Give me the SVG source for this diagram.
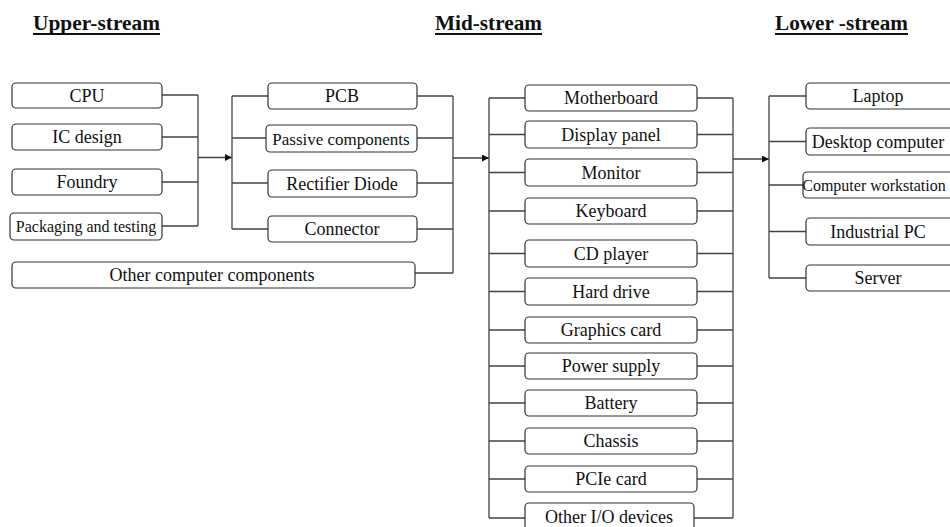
<svg xmlns="http://www.w3.org/2000/svg" width="950" height="527" viewBox="0 0 950 527">
  <style>
    .box { fill: #ffffff; stroke: #333333; stroke-width: 1.2; }
    .lbl { font-family: "Liberation Serif", "Times New Roman", serif; font-size: 18px; fill: #111111; text-anchor: middle; }
    .hdr { font-family: "Liberation Serif", "Times New Roman", serif; font-size: 20.5px; font-weight: bold; fill: #111111; }
    .wire { fill: none; stroke: #444444; stroke-width: 1.3; }
    .ul { stroke: #111111; stroke-width: 2; }
  </style>
  <defs>
    <marker id="arrow" viewBox="0 0 10 10" refX="10" refY="5" markerWidth="8" markerHeight="7" markerUnits="userSpaceOnUse" orient="auto">
      <path d="M0,0 L10,5 L0,10 z" fill="#111111"/>
    </marker>
  </defs>

  <!-- Column headings -->
  <g id="headings">
    <text class="hdr" x="33" y="30" textLength="127" lengthAdjust="spacingAndGlyphs">Upper-stream</text>
    <line class="ul" x1="33" y1="34" x2="160" y2="34"/>
    <text class="hdr" x="435" y="30" textLength="107" lengthAdjust="spacingAndGlyphs">Mid-stream</text>
    <line class="ul" x1="435" y1="34" x2="542" y2="34"/>
    <text class="hdr" x="775" y="30" textLength="133" lengthAdjust="spacingAndGlyphs">Lower -stream</text>
    <line class="ul" x1="775" y1="34" x2="908" y2="34"/>
  </g>

  <!-- Connectors -->
  <g id="connectors">
    <!-- upstream bracket -->
    <path class="wire" d="M162,95 H198 M162,137 H198 M162,182 H198 M162,226 H198 M198,95 V226"/>
    <line class="wire" x1="198" y1="157.5" x2="232" y2="157.5" marker-end="url(#arrow)"/>
    <!-- component bracket (left side) -->
    <path class="wire" d="M232,96 V229 M232,96 H268 M232,138 H266 M232,183 H268 M232,229 H268"/>
    <!-- component bracket (right side) -->
    <path class="wire" d="M417,96 H453 M417,138 H453 M417,183 H453 M417,229 H453 M415,273 H453 M453,96 V273"/>
    <line class="wire" x1="453" y1="158" x2="489" y2="158" marker-end="url(#arrow)"/>
    <!-- midstream bracket (left side) -->
    <path class="wire" d="M489,98 V518 M489,98 H525 M489,134.5 H525 M489,172.5 H525 M489,211 H525 M489,253.5 H525 M489,291.5 H525 M489,330 H525 M489,366 H525 M489,403 H525 M489,441 H525 M489,479 H525 M489,518 H525"/>
    <!-- midstream bracket (right side) -->
    <path class="wire" d="M733,98 V518 M697,98 H733 M697,134.5 H733 M697,172.5 H733 M697,211 H733 M697,253.5 H733 M697,291.5 H733 M697,330 H733 M697,366 H733 M697,403 H733 M697,441 H733 M697,479 H733 M694,518 H733"/>
    <line class="wire" x1="733" y1="159" x2="769" y2="159" marker-end="url(#arrow)"/>
    <!-- downstream bracket -->
    <path class="wire" d="M769,96 V278 M769,96 H806 M769,141.5 H806 M769,185 H803 M769,231.5 H806 M769,278 H806"/>
  </g>

  <!-- Upstream nodes -->
  <g id="cpu"><rect class="box" x="12" y="83" width="150" height="25" rx="4"/><text class="lbl" x="87" y="101.5">CPU</text></g>
  <g id="ic-design"><rect class="box" x="12" y="124" width="150" height="26" rx="4"/><text class="lbl" x="87" y="143">IC design</text></g>
  <g id="foundry"><rect class="box" x="12" y="169" width="150" height="26" rx="4"/><text class="lbl" x="87" y="188">Foundry</text></g>
  <g id="packaging"><rect class="box" x="10" y="213" width="152" height="27" rx="4"/><text class="lbl" x="86" y="232" style="font-size:16px">Packaging and testing</text></g>

  <g id="pcb"><rect class="box" x="268" y="83" width="149" height="26" rx="4"/><text class="lbl" x="342" y="102">PCB</text></g>
  <g id="passive"><rect class="box" x="266" y="125" width="151" height="27" rx="4"/><text class="lbl" x="341" y="144.5" style="font-size:17px">Passive components</text></g>
  <g id="rectifier"><rect class="box" x="268" y="170" width="149" height="27" rx="4"/><text class="lbl" x="342" y="189.5">Rectifier Diode</text></g>
  <g id="connector"><rect class="box" x="268" y="216" width="149" height="26" rx="4"/><text class="lbl" x="342" y="235">Connector</text></g>

  <g id="other-components"><rect class="box" x="12" y="262" width="403" height="26" rx="4"/><text class="lbl" x="212" y="281">Other computer components</text></g>

  <!-- Midstream nodes -->
  <g id="motherboard"><rect class="box" x="525" y="85" width="172" height="26" rx="4"/><text class="lbl" x="611" y="104">Motherboard</text></g>
  <g id="display-panel"><rect class="box" x="525" y="121" width="172" height="27" rx="4"/><text class="lbl" x="611" y="140.5">Display panel</text></g>
  <g id="monitor"><rect class="box" x="525" y="159" width="172" height="27" rx="4"/><text class="lbl" x="611" y="178.5">Monitor</text></g>
  <g id="keyboard"><rect class="box" x="525" y="198" width="172" height="26" rx="4"/><text class="lbl" x="611" y="217">Keyboard</text></g>
  <g id="cd-player"><rect class="box" x="525" y="240" width="172" height="27" rx="4"/><text class="lbl" x="611" y="259.5">CD player</text></g>
  <g id="hard-drive"><rect class="box" x="525" y="278" width="172" height="27" rx="4"/><text class="lbl" x="611" y="297.5">Hard drive</text></g>
  <g id="graphics-card"><rect class="box" x="525" y="317" width="172" height="26" rx="4"/><text class="lbl" x="611" y="336">Graphics card</text></g>
  <g id="power-supply"><rect class="box" x="525" y="353" width="172" height="26" rx="4"/><text class="lbl" x="611" y="372">Power supply</text></g>
  <g id="battery"><rect class="box" x="525" y="390" width="172" height="26" rx="4"/><text class="lbl" x="611" y="409">Battery</text></g>
  <g id="chassis"><rect class="box" x="525" y="428" width="172" height="26" rx="4"/><text class="lbl" x="611" y="447">Chassis</text></g>
  <g id="pcie-card"><rect class="box" x="525" y="466" width="172" height="26" rx="4"/><text class="lbl" x="611" y="485">PCIe card</text></g>
  <g id="other-io"><rect class="box" x="525" y="503" width="169" height="28" rx="4"/><text class="lbl" x="609" y="523">Other I/O devices</text></g>

  <!-- Downstream nodes -->
  <g id="laptop"><rect class="box" x="806" y="83" width="150" height="26" rx="4"/><text class="lbl" x="878" y="102">Laptop</text></g>
  <g id="desktop"><rect class="box" x="806" y="128" width="150" height="27" rx="4"/><text class="lbl" x="878" y="147.5">Desktop computer</text></g>
  <g id="workstation"><rect class="box" x="803" y="172" width="153" height="26" rx="4"/><text class="lbl" x="874" y="190.5" style="font-size:16px">Computer workstation</text></g>
  <g id="industrial-pc"><rect class="box" x="806" y="218" width="150" height="27" rx="4"/><text class="lbl" x="878" y="237.5">Industrial PC</text></g>
  <g id="server"><rect class="box" x="806" y="265" width="150" height="26" rx="4"/><text class="lbl" x="878" y="284">Server</text></g>
</svg>
